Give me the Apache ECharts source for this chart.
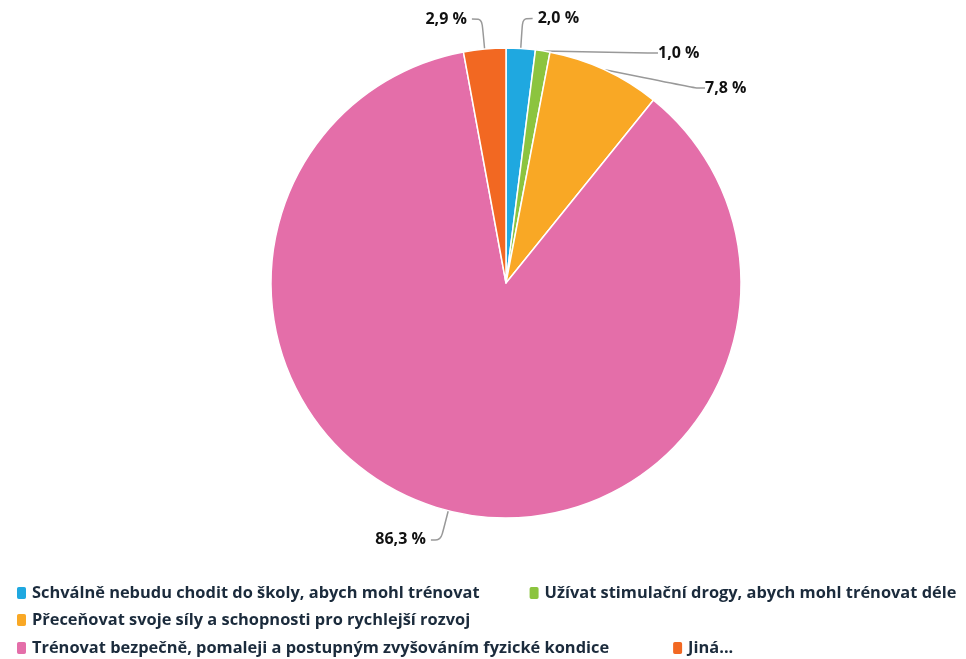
<!DOCTYPE html>
<html><head><meta charset="utf-8">
<script src="https://cdn.jsdelivr.net/npm/echarts@6/dist/echarts.min.js"></script>
<style>html,body{margin:0;padding:0;background:#fff}#c{width:966px;height:659px}</style>
</head><body><div id="c"></div>
<script>
const categories = [
  "Schválně nebudu chodit do školy, abych mohl trénovat",
  "Užívat stimulační drogy, abych mohl trénovat déle",
  "Přeceňovat svoje síly a schopnosti pro rychlejší rozvoj",
  "Trénovat bezpečně, pomaleji a postupným zvyšováním fyzické kondice",
  "Jiná..."
];
const values = [2.0, 1.0, 7.8, 86.3, 2.9];
const colors = ["#1fa8e0", "#8cc43f", "#f9a825", "#e46ea9", "#f26822"];
const legendRows = [[0, 1], [2], [3, 4]];

const legendText = { fontFamily: 'Open Sans', fontWeight: 'bold', fontSize: 16.4, color: '#1b2b3c' };
const rowTops = [580, 607, 635];
const rowGaps = [48, 48, 62];
// label placement tweaks for the crowded top-right labels (style only)
const labelSpots = { 1: [658, 53], 2: [705, 88] };

const chart = echarts.init(document.getElementById('c'));
chart.setOption({
  animation: false,
  color: colors,
  legend: legendRows.map((row, r) => ({
    left: 10, top: rowTops[r],
    itemWidth: 11, itemHeight: 14, itemGap: rowGaps[r],
    icon: 'roundRect',
    textStyle: legendText,
    data: row.map(i => categories[i])
  })),
  series: [{
    type: 'pie',
    center: [506, 283], radius: 235,
    startAngle: 90, clockwise: true,
    avoidLabelOverlap: true,
    itemStyle: { borderColor: '#fff', borderWidth: 1.5 },
    label: {
      show: true, position: 'outside',
      fontFamily: 'Open Sans', fontWeight: 'bold', fontSize: 16, color: '#111',
      formatter: p => p.value.toFixed(1).replace('.', ',') + ' %'
    },
    labelLine: { show: true, length: 30, length2: 10, smooth: 0.3, lineStyle: { color: '#999', width: 1.5 } },
    labelLayout: p => {
      const s = labelSpots[p.dataIndex];
      return s ? { x: s[0], y: s[1], align: 'left', verticalAlign: 'middle' } : {};
    },
    data: categories.map((n, i) => ({ name: n, value: values[i] }))
  }]
});
</script></body></html>
